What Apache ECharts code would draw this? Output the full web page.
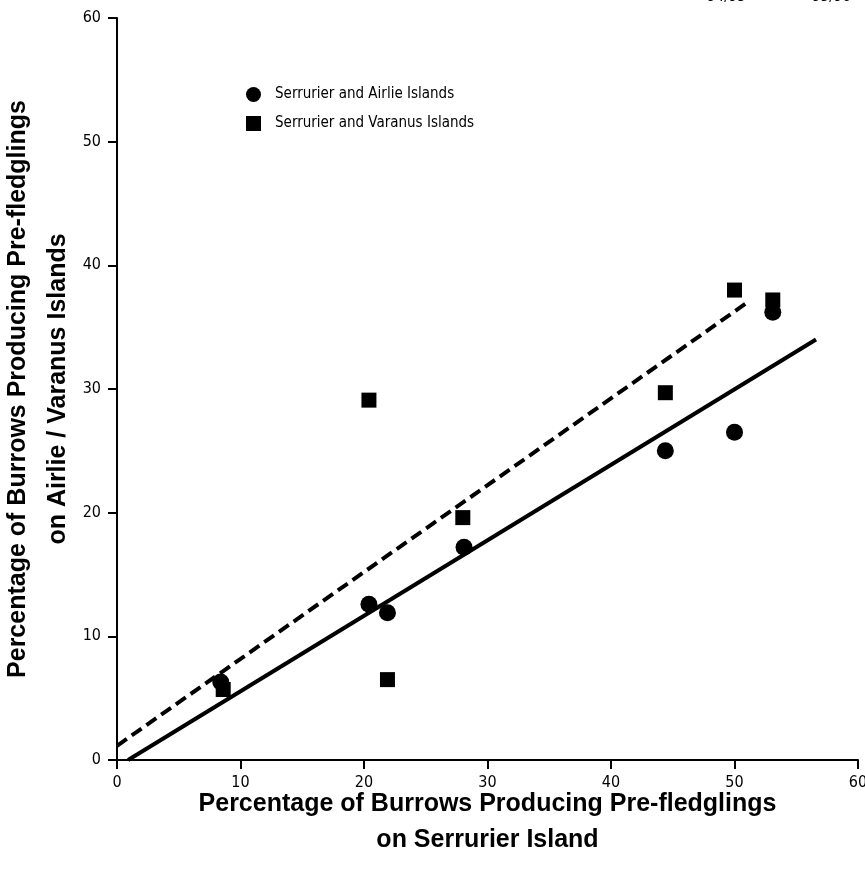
<!DOCTYPE html>
<html>
<head>
<meta charset="utf-8">
<script src="https://cdn.jsdelivr.net/npm/echarts@6/dist/echarts.min.js"></script>
<style>html,body{margin:0;padding:0;background:#fff;}#c{width:865px;height:876px;}</style>
</head>
<body>
<div id="c"></div>
<script>
var airlie = [[8.4,6.3],[20.4,12.6],[21.9,11.9],[28.1,17.2],[44.4,25.0],[50.0,26.5],[53.1,36.2]];
var varanus = [[8.6,5.7],[20.4,29.1],[21.9,6.5],[28.0,19.6],[44.4,29.7],[50.0,38.0],[53.1,37.2]];
var airlieFit = [[0.9,0.0],[56.6,34.0]];
var varanusFit = [[0.0,1.15],[50.9,36.9]];
var seasonLabels = ['94/95','95/96'];
var xTitle = 'Percentage of Burrows Producing Pre-fledglings\non Serrurier Island';
var yTitle = 'Percentage of Burrows Producing Pre-fledglings\non Airlie / Varanus Islands';

var narrow = "'Liberation Sans Narrow','Arial Narrow','DejaVu Sans Condensed',sans-serif";
var bold = "'Liberation Sans',Arial,sans-serif";
var chart = echarts.init(document.getElementById('c'));
chart.setOption({
  animation: false,
  backgroundColor: '#fff',
  grid: {left: 117, right: 7, top: 18, bottom: 116, containLabel: false, outerBoundsMode: 'none'},
  legend: {
    orient: 'vertical', left: 241, top: 82, itemWidth: 15, itemHeight: 15, itemGap: 14,
    textStyle: {fontFamily: narrow, fontSize: 15, color: '#000', padding: [0, 0, 0, 9]},
    data: [{name: 'Serrurier and Airlie Islands', icon: 'circle'}, {name: 'Serrurier and Varanus Islands', icon: 'rect'}]
  },
  graphic: [
    {type: 'text', left: 707, top: -10, style: {text: seasonLabels[0], font: '15px ' + narrow, fill: '#000'}},
    {type: 'text', left: 812, top: -10, style: {text: seasonLabels[1], font: '15px ' + narrow, fill: '#000'}}
  ],
  xAxis: {
    type: 'value', min: 0, max: 60, interval: 10,
    name: xTitle, nameLocation: 'middle', nameGap: 26, nameMoveOverlap: false,
    nameTextStyle: {fontFamily: bold, fontWeight: 'bold', fontSize: 25, lineHeight: 36, color: '#000'},
    axisLine: {lineStyle: {color: '#000', width: 2}},
    axisTick: {length: 9, lineStyle: {color: '#000', width: 2}},
    axisLabel: {margin: 15, fontFamily: narrow, fontSize: 16, color: '#000'},
    splitLine: {show: false}
  },
  yAxis: {
    type: 'value', min: 0, max: 60, interval: 10,
    name: yTitle, nameLocation: 'middle', nameGap: 39, nameMoveOverlap: false,
    nameTextStyle: {fontFamily: bold, fontWeight: 'bold', fontSize: 25, lineHeight: 40, color: '#000'},
    axisLine: {show: true, lineStyle: {color: '#000', width: 2}},
    axisTick: {show: true, length: 9, lineStyle: {color: '#000', width: 2}},
    axisLabel: {margin: 16, fontFamily: narrow, fontSize: 16, color: '#000'},
    splitLine: {show: false}
  },
  series: [
    {name: 'fitA', type: 'line', data: airlieFit, symbol: 'none', lineStyle: {color: '#000', width: 4}, z: 2},
    {name: 'fitV', type: 'line', data: varanusFit, symbol: 'none', lineStyle: {color: '#000', width: 4, type: [12, 6]}, z: 2},
    {name: 'Serrurier and Airlie Islands', type: 'scatter', data: airlie, symbol: 'circle', symbolSize: 17, itemStyle: {color: '#000', opacity: 1}, z: 3},
    {name: 'Serrurier and Varanus Islands', type: 'scatter', data: varanus, symbol: 'rect', symbolSize: 15, itemStyle: {color: '#000', opacity: 1}, z: 3}
  ]
});
</script>
</body>
</html>
